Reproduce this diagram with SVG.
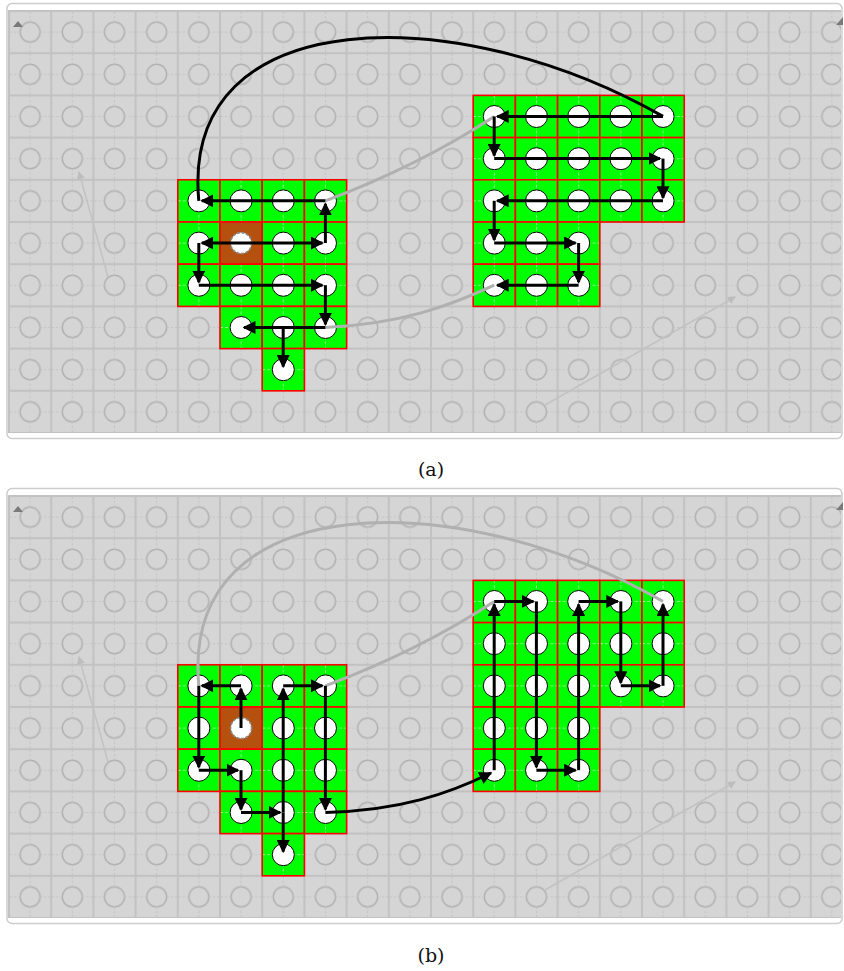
<svg xmlns="http://www.w3.org/2000/svg" xmlns:xlink="http://www.w3.org/1999/xlink" width="844" height="971" viewBox="0 0 844 971">
<style>
.frame{fill:#fff;stroke:#cdcdcd;stroke-width:1.5}
.board{fill:url(#grid)}
.gr{fill:url(#gc);stroke:#ff0000;stroke-width:1.6}
.src{fill:#b5510e;stroke:#ff0000;stroke-width:1.6}
.n{fill:#fff;stroke:#000;stroke-width:1}
.sn{fill:#fff;stroke:#8a8a8a;stroke-width:1.6;stroke-dasharray:3 1.5}
.ar{fill:none;stroke:#000;stroke-width:3;marker-end:url(#ah)}
.bk{fill:none;stroke:#000;stroke-width:3}
.gl{fill:none;stroke:#b0b0b0;stroke-width:3}
.faint{fill:none;stroke:#c2c2c2;stroke-width:1.5;marker-end:url(#fh)}
.tri{fill:#7a7a7a}
.cap{font-family:"DejaVu Serif","Liberation Serif",serif;font-size:19px;text-anchor:middle;fill:#111}
</style>
<defs>
<pattern id="grid" patternUnits="userSpaceOnUse" x="9" y="11" width="42.2" height="42.2">
<rect width="42.2" height="42.2" fill="#d5d5d5" stroke="#c2c2c2" stroke-width="2"/>
<circle cx="21.1" cy="21.1" r="10" fill="none" stroke="#b2b2b2" stroke-width="1.5"/>
<path d="M1,21.1H11M31.2,21.1H41.2M21.1,1V11M21.1,31.2V41.2" stroke="#c4c4c4" stroke-width="1" stroke-dasharray="2 2"/>
</pattern>
<pattern id="gc" patternUnits="userSpaceOnUse" x="0" y="0" width="42.2" height="42.2">
<rect width="42.2" height="42.2" fill="#00ff00"/>
<path d="M0,21.1H42.2M21.1,0V42.2" stroke="#ffffff" stroke-opacity="0.55" stroke-width="1" stroke-dasharray="3 2"/>
</pattern>
<g id="cell"><rect class="gr" width="42.2" height="42.2"/><circle class="n" cx="21.1" cy="21.1" r="11"/></g>
<g id="scell"><rect class="src" width="42.2" height="42.2"/><circle class="sn" cx="21.1" cy="21.1" r="10.5"/></g>
<marker id="ah" markerUnits="userSpaceOnUse" markerWidth="13" markerHeight="13" refX="11.5" refY="6.5" orient="auto"><path d="M0,0L13,6.5L0,13z" fill="#000"/></marker>
<marker id="fh" markerUnits="userSpaceOnUse" markerWidth="8" markerHeight="8" refX="7" refY="4" orient="auto"><path d="M0,0L8,4L0,8z" fill="#bdbdbd"/></marker>
</defs>

<!-- Panel (a) -->
<g id="panel-a">
<rect class="frame" x="7" y="3.5" width="835" height="435" rx="5"/>
<rect class="board" x="8" y="10" width="833" height="423"/>
<polygon class="tri" points="13,27 18,21 23,27"/>
<polygon class="tri" points="836,25 843,17 843,25"/>
<g id="a-faint">
<path class="faint" d="M108,277 L79,172"/>
<path class="faint" d="M545,405 L735,297"/>
</g>
<g id="a-nodes">
<g id="a-4-4" transform="translate(177.8,179.8)"><use href="#cell"/></g>
<g id="a-5-4" transform="translate(220,179.8)"><use href="#cell"/></g>
<g id="a-6-4" transform="translate(262.2,179.8)"><use href="#cell"/></g>
<g id="a-7-4" transform="translate(304.4,179.8)"><use href="#cell"/></g>
<g id="a-4-5" transform="translate(177.8,222)"><use href="#cell"/></g>
<g id="a-5-5" transform="translate(220,222)"><use href="#scell"/></g>
<g id="a-6-5" transform="translate(262.2,222)"><use href="#cell"/></g>
<g id="a-7-5" transform="translate(304.4,222)"><use href="#cell"/></g>
<g id="a-4-6" transform="translate(177.8,264.2)"><use href="#cell"/></g>
<g id="a-5-6" transform="translate(220,264.2)"><use href="#cell"/></g>
<g id="a-6-6" transform="translate(262.2,264.2)"><use href="#cell"/></g>
<g id="a-7-6" transform="translate(304.4,264.2)"><use href="#cell"/></g>
<g id="a-5-7" transform="translate(220,306.4)"><use href="#cell"/></g>
<g id="a-6-7" transform="translate(262.2,306.4)"><use href="#cell"/></g>
<g id="a-7-7" transform="translate(304.4,306.4)"><use href="#cell"/></g>
<g id="a-6-8" transform="translate(262.2,348.6)"><use href="#cell"/></g>
<g id="a-11-2" transform="translate(473.2,95.4)"><use href="#cell"/></g>
<g id="a-12-2" transform="translate(515.4,95.4)"><use href="#cell"/></g>
<g id="a-13-2" transform="translate(557.6,95.4)"><use href="#cell"/></g>
<g id="a-14-2" transform="translate(599.8,95.4)"><use href="#cell"/></g>
<g id="a-15-2" transform="translate(642,95.4)"><use href="#cell"/></g>
<g id="a-11-3" transform="translate(473.2,137.6)"><use href="#cell"/></g>
<g id="a-12-3" transform="translate(515.4,137.6)"><use href="#cell"/></g>
<g id="a-13-3" transform="translate(557.6,137.6)"><use href="#cell"/></g>
<g id="a-14-3" transform="translate(599.8,137.6)"><use href="#cell"/></g>
<g id="a-15-3" transform="translate(642,137.6)"><use href="#cell"/></g>
<g id="a-11-4" transform="translate(473.2,179.8)"><use href="#cell"/></g>
<g id="a-12-4" transform="translate(515.4,179.8)"><use href="#cell"/></g>
<g id="a-13-4" transform="translate(557.6,179.8)"><use href="#cell"/></g>
<g id="a-14-4" transform="translate(599.8,179.8)"><use href="#cell"/></g>
<g id="a-15-4" transform="translate(642,179.8)"><use href="#cell"/></g>
<g id="a-11-5" transform="translate(473.2,222)"><use href="#cell"/></g>
<g id="a-12-5" transform="translate(515.4,222)"><use href="#cell"/></g>
<g id="a-13-5" transform="translate(557.6,222)"><use href="#cell"/></g>
<g id="a-11-6" transform="translate(473.2,264.2)"><use href="#cell"/></g>
<g id="a-12-6" transform="translate(515.4,264.2)"><use href="#cell"/></g>
<g id="a-13-6" transform="translate(557.6,264.2)"><use href="#cell"/></g>
</g>
<g id="a-connectors">
<path class="gl" d="M325.4,200.8 Q420,165 494.2,116.4"/>
<path class="gl" d="M325.4,327.4 C400,324 450,306 494.2,285.2"/>
<path class="bk" d="M198.8,200.8 C180,0 460,0 663,116.4"/>
<path class="ar" d="M241,243 L201.8,243"/>
<path class="ar" d="M241,243 L322.4,243"/>
<path class="ar" d="M325.4,243 L325.4,203.8"/>
<path class="ar" d="M325.4,200.8 L201.8,200.8"/>
<path class="ar" d="M198.8,243 L198.8,282.2"/>
<path class="ar" d="M198.8,285.2 L322.4,285.2"/>
<path class="ar" d="M325.4,285.2 L325.4,324.4"/>
<path class="ar" d="M325.4,327.4 L244,327.4"/>
<path class="ar" d="M283.2,327.4 L283.2,366.6"/>
<path class="ar" d="M663,116.4 L497.2,116.4"/>
<path class="ar" d="M494.2,116.4 L494.2,155.6"/>
<path class="ar" d="M494.2,158.6 L660,158.6"/>
<path class="ar" d="M663,158.6 L663,197.8"/>
<path class="ar" d="M663,200.8 L497.2,200.8"/>
<path class="ar" d="M494.2,200.8 L494.2,240"/>
<path class="ar" d="M494.2,243 L575.6,243"/>
<path class="ar" d="M578.6,243 L578.6,282.2"/>
<path class="ar" d="M578.6,285.2 L497.2,285.2"/>
</g>
</g>
<text class="cap" x="431" y="476">(a)</text>

<!-- Panel (b) -->
<g id="panel-b" transform="translate(0,485)">
<rect class="frame" x="7" y="3.5" width="835" height="435" rx="5"/>
<rect class="board" x="8" y="10" width="833" height="423"/>
<polygon class="tri" points="13,27 18,21 23,27"/>
<polygon class="tri" points="836,25 843,17 843,25"/>
<g id="b-faint">
<path class="faint" d="M108,277 L79,172"/>
<path class="faint" d="M545,405 L735,297"/>
</g>
<g id="b-nodes">
<g id="b-4-4" transform="translate(177.8,179.8)"><use href="#cell"/></g>
<g id="b-5-4" transform="translate(220,179.8)"><use href="#cell"/></g>
<g id="b-6-4" transform="translate(262.2,179.8)"><use href="#cell"/></g>
<g id="b-7-4" transform="translate(304.4,179.8)"><use href="#cell"/></g>
<g id="b-4-5" transform="translate(177.8,222)"><use href="#cell"/></g>
<g id="b-5-5" transform="translate(220,222)"><use href="#scell"/></g>
<g id="b-6-5" transform="translate(262.2,222)"><use href="#cell"/></g>
<g id="b-7-5" transform="translate(304.4,222)"><use href="#cell"/></g>
<g id="b-4-6" transform="translate(177.8,264.2)"><use href="#cell"/></g>
<g id="b-5-6" transform="translate(220,264.2)"><use href="#cell"/></g>
<g id="b-6-6" transform="translate(262.2,264.2)"><use href="#cell"/></g>
<g id="b-7-6" transform="translate(304.4,264.2)"><use href="#cell"/></g>
<g id="b-5-7" transform="translate(220,306.4)"><use href="#cell"/></g>
<g id="b-6-7" transform="translate(262.2,306.4)"><use href="#cell"/></g>
<g id="b-7-7" transform="translate(304.4,306.4)"><use href="#cell"/></g>
<g id="b-6-8" transform="translate(262.2,348.6)"><use href="#cell"/></g>
<g id="b-11-2" transform="translate(473.2,95.4)"><use href="#cell"/></g>
<g id="b-12-2" transform="translate(515.4,95.4)"><use href="#cell"/></g>
<g id="b-13-2" transform="translate(557.6,95.4)"><use href="#cell"/></g>
<g id="b-14-2" transform="translate(599.8,95.4)"><use href="#cell"/></g>
<g id="b-15-2" transform="translate(642,95.4)"><use href="#cell"/></g>
<g id="b-11-3" transform="translate(473.2,137.6)"><use href="#cell"/></g>
<g id="b-12-3" transform="translate(515.4,137.6)"><use href="#cell"/></g>
<g id="b-13-3" transform="translate(557.6,137.6)"><use href="#cell"/></g>
<g id="b-14-3" transform="translate(599.8,137.6)"><use href="#cell"/></g>
<g id="b-15-3" transform="translate(642,137.6)"><use href="#cell"/></g>
<g id="b-11-4" transform="translate(473.2,179.8)"><use href="#cell"/></g>
<g id="b-12-4" transform="translate(515.4,179.8)"><use href="#cell"/></g>
<g id="b-13-4" transform="translate(557.6,179.8)"><use href="#cell"/></g>
<g id="b-14-4" transform="translate(599.8,179.8)"><use href="#cell"/></g>
<g id="b-15-4" transform="translate(642,179.8)"><use href="#cell"/></g>
<g id="b-11-5" transform="translate(473.2,222)"><use href="#cell"/></g>
<g id="b-12-5" transform="translate(515.4,222)"><use href="#cell"/></g>
<g id="b-13-5" transform="translate(557.6,222)"><use href="#cell"/></g>
<g id="b-11-6" transform="translate(473.2,264.2)"><use href="#cell"/></g>
<g id="b-12-6" transform="translate(515.4,264.2)"><use href="#cell"/></g>
<g id="b-13-6" transform="translate(557.6,264.2)"><use href="#cell"/></g>
</g>
<g id="b-connectors">
<path class="gl" d="M663,116.4 C460,0 180,0 198.8,200.8"/>
<path class="gl" d="M325.4,200.8 Q420,165 494.2,116.4"/>
<path class="ar" d="M325.4,327.4 C400,326 450,308 491,288"/>
<path class="ar" d="M241,243 L241,203.8"/>
<path class="ar" d="M241,200.8 L201.8,200.8"/>
<path class="ar" d="M198.8,200.8 L198.8,282.2"/>
<path class="ar" d="M198.8,285.2 L238,285.2"/>
<path class="ar" d="M241,285.2 L241,324.4"/>
<path class="ar" d="M241,327.4 L280.2,327.4"/>
<path class="ar" d="M283.2,327.4 L283.2,203.8"/>
<path class="ar" d="M283.2,327.4 L283.2,366.6"/>
<path class="ar" d="M283.2,200.8 L322.4,200.8"/>
<path class="ar" d="M325.4,200.8 L325.4,324.4"/>
<path class="ar" d="M494.2,285.2 L494.2,119.4"/>
<path class="ar" d="M494.2,116.4 L533.4,116.4"/>
<path class="ar" d="M536.4,116.4 L536.4,282.2"/>
<path class="ar" d="M536.4,285.2 L575.6,285.2"/>
<path class="ar" d="M578.6,285.2 L578.6,119.4"/>
<path class="ar" d="M578.6,116.4 L617.8,116.4"/>
<path class="ar" d="M620.8,116.4 L620.8,197.8"/>
<path class="ar" d="M620.8,200.8 L660,200.8"/>
<path class="ar" d="M663,200.8 L663,119.4"/>
</g>
</g>
<text class="cap" x="431" y="962">(b)</text>
</svg>
